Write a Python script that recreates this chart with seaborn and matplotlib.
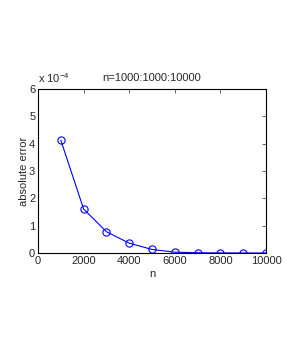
import matplotlib
matplotlib.use("Agg")
import matplotlib.pyplot as plt
import seaborn as sns
import pandas as pd

n_values = [1000, 2000, 3000, 4000, 5000, 6000, 7000, 8000, 9000, 10000]
abs_error = [4.13e-4, 1.61e-4, 0.78e-4, 0.36e-4, 0.13e-4, 0.03e-4, 0.01e-4, 0.003e-4, 0.001e-4, 0.0005e-4]
x_ticks = [0, 2000, 4000, 6000, 8000, 10000]
y_ticks = [0, 1, 2, 3, 4, 5, 6]

sns.set_style("white")
plt.rcParams['font.family'] = ['Liberation Sans', 'DejaVu Sans']
plt.rcParams['mathtext.fontset'] = 'custom'
plt.rcParams['mathtext.rm'] = 'Liberation Sans'
plt.rcParams['mathtext.it'] = 'Liberation Sans'

df = pd.DataFrame({"n": n_values, "err": [e * 1e4 for e in abs_error]})

fig = plt.figure(figsize=(2.94, 3.54), dpi=100)
ax = fig.add_axes([38/294, 1-253/354, (266-38)/294, (253-89)/354])
sns.lineplot(data=df, x="n", y="err", ax=ax, color="#0000ff", linewidth=0.8,
             marker="o", markersize=5.2, markerfacecolor="none",
             markeredgecolor="#0000ff", markeredgewidth=0.8)
ax.set_xlim(0, 10000)
ax.set_ylim(0, 6)
ax.set_xticks(x_ticks)
ax.set_yticks(y_ticks)
ax.tick_params(direction="in", length=3, width=0.5, labelsize=8, top=True, right=True, pad=2)
for s in ax.spines.values():
    s.set_linewidth(0.8)
    s.set_color("black")
ax.set_xlabel("n", fontsize=8, labelpad=2)
ax.set_ylabel("absolute error", fontsize=8, labelpad=0)
ax.set_title("n=1000:1000:10000", fontsize=8, pad=6)
fig.text(38/294, 1-83/354, r"x 10$^{-4}$", fontsize=8, ha="left", va="baseline")
fig.savefig("out.png", dpi=100)
